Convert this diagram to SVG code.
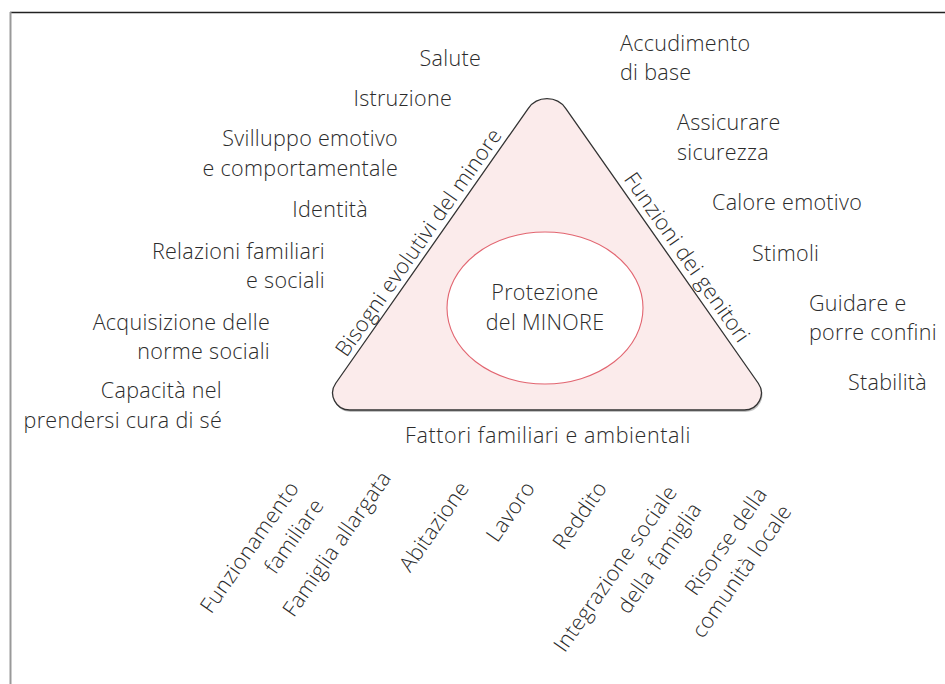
<svg xmlns="http://www.w3.org/2000/svg" width="945" height="684" viewBox="0 0 945 684">
<style>
text{font-family:"Open Sans","Liberation Sans",sans-serif;font-size:21.5px;font-weight:350;letter-spacing:0.3px;fill:#2b2b2b}
.r{text-anchor:end}
.m{text-anchor:middle}
</style>
<rect width="945" height="684" fill="#fff"/>
<g id="frame">
<line x1="10" y1="12.5" x2="945" y2="12.5" stroke="#222" stroke-width="1.4"/>
<line x1="10.5" y1="12" x2="10.5" y2="684" stroke="#999" stroke-width="2"/>
</g>
<g id="triangle">
<path d="M349.65 410 L744.35 410 A17 17 0 0 0 758.27 383.25 L565.84 108.51 A23 23 0 0 0 528.16 108.51 L335.73 383.25 A17 17 0 0 0 349.65 410 Z" transform="translate(1,2)" fill="#999" opacity="0.6"/>
<path d="M349.65 410 L744.35 410 A17 17 0 0 0 758.27 383.25 L565.84 108.51 A23 23 0 0 0 528.16 108.51 L335.73 383.25 A17 17 0 0 0 349.65 410 Z" fill="#fbebeb" stroke="#333" stroke-width="1.3"/>
<text class="m" transform="translate(424.6,246.6) rotate(-55)">Bisogni evolutivi del minore</text>
<text class="m" transform="translate(681,261.6) rotate(55)">Funzioni dei genitori</text>
<text class="m" x="548" y="443" style="letter-spacing:0.6px">Fattori familiari e ambientali</text>
</g>
<g id="center">
<ellipse cx="545" cy="308" rx="98" ry="76" fill="#fff" stroke="#e26570" stroke-width="1.1"/>
<text class="m" x="545" y="300">Protezione</text>
<text class="m" x="545" y="330">del MINORE</text>
</g>
<g id="needs">
<text class="r" x="481" y="66">Salute</text>
<text class="r" x="452" y="106">Istruzione</text>
<text class="r" x="398" y="146">Svilluppo emotivo</text>
<text class="r" x="398" y="176">e comportamentale</text>
<text class="r" x="368" y="217">Identità</text>
<text class="r" x="325" y="259">Relazioni familiari</text>
<text class="r" x="325" y="288">e sociali</text>
<text class="r" x="270" y="330">Acquisizione delle</text>
<text class="r" x="270" y="359">norme sociali</text>
<text class="r" x="222" y="398">Capacità nel</text>
<text class="r" x="222" y="428">prendersi cura di sé</text>
</g>
<g id="parents">
<text x="620" y="51">Accudimento</text>
<text x="620" y="80">di base</text>
<text x="677" y="130">Assicurare</text>
<text x="677" y="160">sicurezza</text>
<text x="712" y="210">Calore emotivo</text>
<text x="752" y="261">Stimoli</text>
<text x="809" y="311">Guidare e</text>
<text x="809" y="340">porre confini</text>
<text x="848" y="390">Stabilità</text>
</g>
<g id="factors">
<text class="r" transform="translate(300,488) rotate(-55)"><tspan x="0" y="0">Funzionamento</tspan><tspan x="0" y="30">familiare</tspan></text>
<text class="r" transform="translate(392,478) rotate(-55)">Famiglia allargata</text>
<text class="r" transform="translate(470,488) rotate(-55)">Abitazione</text>
<text class="r" transform="translate(536,488) rotate(-55)">Lavoro</text>
<text class="r" transform="translate(608,488) rotate(-55)">Reddito</text>
<text class="r" transform="translate(678,492) rotate(-55)"><tspan x="0" y="0">Integrazione sociale</tspan><tspan x="0" y="30">della famiglia</tspan></text>
<text class="r" transform="translate(768,494) rotate(-55)"><tspan x="0" y="0">Risorse della</tspan><tspan x="0" y="30">comunità locale</tspan></text>
</g>
</svg>
